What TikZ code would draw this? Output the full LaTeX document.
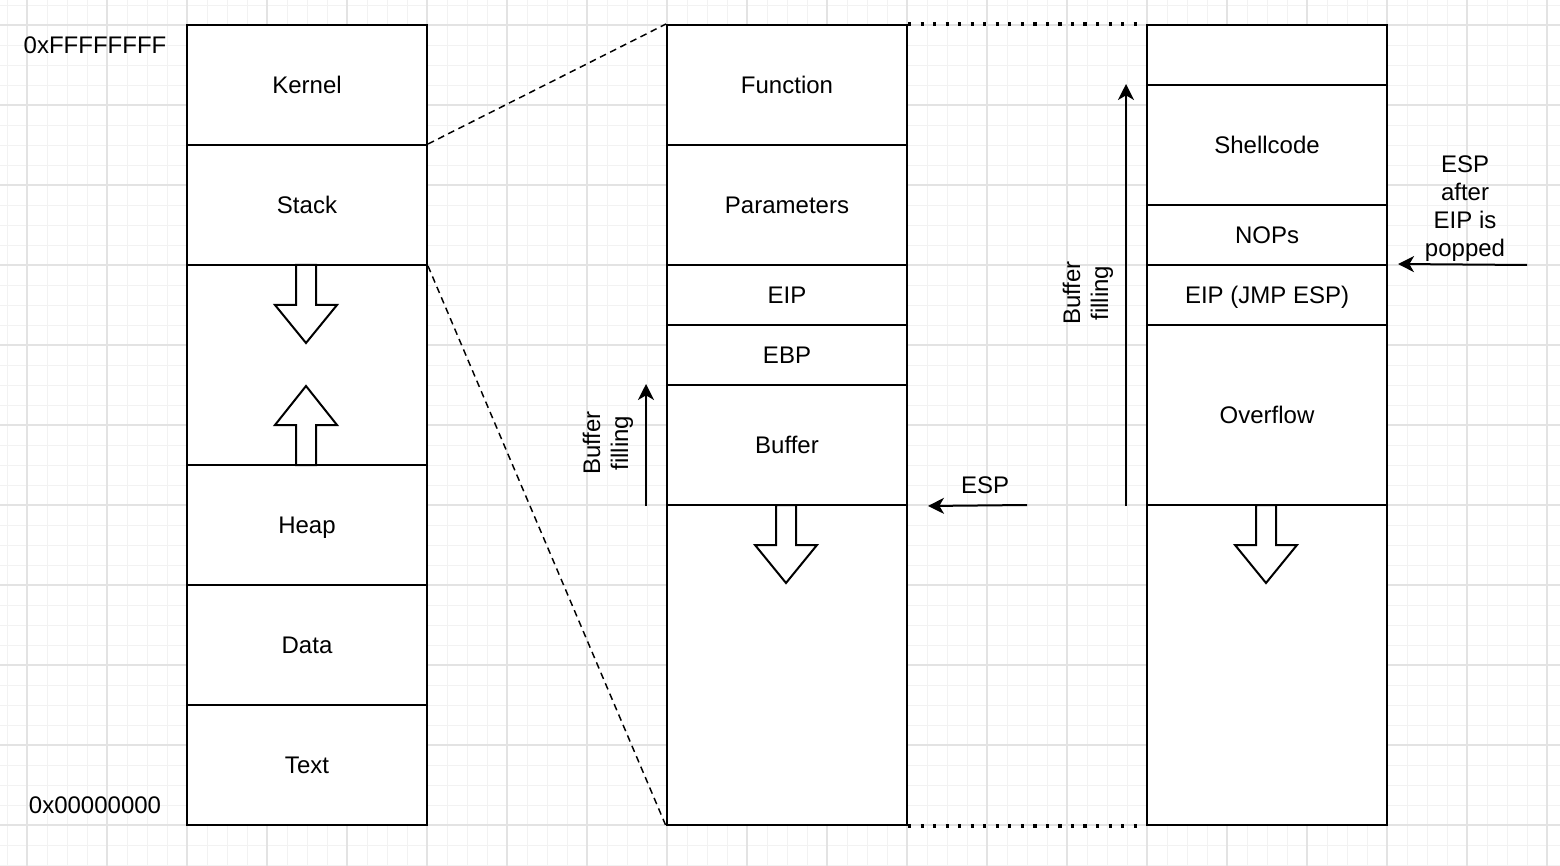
\documentclass[tikz,border=0pt]{standalone}
\usepackage{fontspec}
\setmainfont{Liberation Sans}
\usetikzlibrary{arrows.meta}

\begin{document}
\begin{tikzpicture}[x=0.75pt,y=-0.75pt]
    \tikzstyle{cell}=[rectangle,draw,line width=1.5pt,fill=white,minimum width=180pt,inner sep=0pt,text height=13pt,text depth=0pt,font=\fontsize{18}{21}\selectfont]
    \tikzstyle{link}=[font=\fontsize{18}{21}\selectfont,align=center]

    \tikzstyle{hS}=[cell,minimum height=45pt]    % 60px slot
    \tikzstyle{hM}=[cell,minimum height=90pt]    % 120px slot
    \tikzstyle{hL}=[cell,minimum height=135pt]   % 180px slot
    \tikzstyle{hX}=[cell,minimum height=240pt]   % free space

    \tikzstyle{minorgrid}=[line width=0.6pt,color=black!5]
    \tikzstyle{majorgrid}=[line width=0.8pt,color=black!11]
    \tikzstyle{blockarr}=[line width=1.5pt,fill=white,line join=miter]
    \tikzstyle{ptr}=[line width=1.5pt,-{Stealth[length=12pt,width=12pt,inset=3.5pt]}]
    \tikzstyle{zoomline}=[line width=1.1pt,dash pattern=on 5pt off 3.5pt]
    \tikzstyle{gapline}=[line width=2.4pt,dash pattern=on 2.4pt off 7pt]

    % background grid
    \useasboundingbox (0,0) rectangle (1560,866);
    \fill[white] (0,0) rectangle (1560,866);
    \foreach \g in {7,27,...,1560} \draw[minorgrid] (\g,0) -- (\g,866);
    \foreach \g in {5,25,...,866}  \draw[minorgrid] (0,\g) -- (1560,\g);
    \foreach \g in {27,107,...,1560} \draw[majorgrid] (\g,0) -- (\g,866);
    \foreach \g in {25,105,...,866}  \draw[majorgrid] (0,\g) -- (1560,\g);

    % process memory
    \node[hM] (kernel) at (307, 85) {Kernel};
    \node[hM] (stack)  at (307,205) {Stack};
    \node[cell,minimum height=150pt] (gap) at (307,365) {};
    \node[hM] (heap)   at (307,525) {Heap};
    \node[hM] (data)   at (307,645) {Data};
    \node[hM] (text)   at (307,765) {Text};

    \node[link] (top) at (95, 45) {0xFFFFFFFF};
    \node[link] (bot) at (95,805) {0x00000000};

    % stack frame
    \node[hM] (func)   at (787, 85) {Function};
    \node[hM] (params) at (787,205) {Parameters};
    \node[hS] (eip)    at (787,295) {EIP};
    \node[hS] (ebp)    at (787,355) {EBP};
    \node[hM] (buffer) at (787,445) {Buffer};
    \node[hX] (free1)  at (787,665) {};

    % overflowed frame
    \node[hS] (spare)    at (1267, 55) {};
    \node[hM] (shell)    at (1267,145) {Shellcode};
    \node[hS] (nops)     at (1267,235) {NOPs};
    \node[hS] (jmp)      at (1267,295) {EIP (JMP ESP)};
    \node[hL] (overflow) at (1267,415) {Overflow};
    \node[hX] (free2)    at (1267,665) {};

    % block arrows
    \foreach \cx/\cy in {306/265, 786/505, 1266/505}
        \draw[blockarr] (\cx-10,\cy) -- (\cx+10,\cy) -- (\cx+10,\cy+40) -- (\cx+31,\cy+40)
            -- (\cx,\cy+78) -- (\cx-31,\cy+40) -- (\cx-10,\cy+40) -- cycle;
    \draw[blockarr] (296,465) -- (316,465) -- (316,425) -- (337,425) -- (306,386)
        -- (275,425) -- (296,425) -- cycle;

    % zoom and gap lines
    \draw[zoomline] (stack.north east) -- (func.north west);
    \draw[zoomline] (stack.south east) -- (free1.south west);
    \draw[gapline] (func.north east) -- (spare.north west);
    \draw[gapline] (free1.south east) -- (free2.south west);

    % pointers
    \coordinate (esp)  at (1027,505);
    \coordinate (esp2) at (1527,265);
    \draw[ptr] ([xshift=-15pt]buffer.south west) -- ([xshift=-15pt]buffer.north west);
    \draw[ptr] ([xshift=-15pt]overflow.south west) -- ([xshift=-15pt]shell.north west);
    \draw[ptr] (esp) -- ([xshift=15pt]buffer.south east);
    \draw[ptr] (esp2) -- ([xshift=7.5pt]jmp.north east);

    \node[link] (esplbl)  at (985,485) {ESP};
    \node[link] (esp2lbl) at (1465,209) {ESP\\after\\EIP is\\popped};
    \node[link,rotate=90] (fill1) at (608,443) {Buffer\\filling};
    \node[link,rotate=90] (fill2) at (1088,293) {Buffer\\filling};
\end{tikzpicture}
\end{document}
